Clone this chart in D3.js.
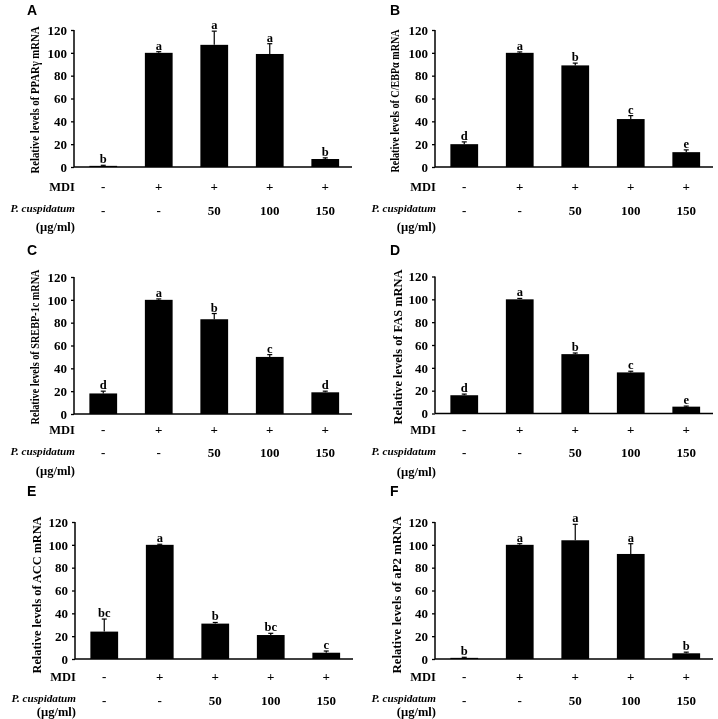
<!DOCTYPE html>
<html><head><meta charset="utf-8">
<script src="https://cdn.jsdelivr.net/npm/d3@7"></script>
<style>body{margin:0;background:#fff}svg{display:block;will-change:transform}text{fill:#000}</style>
</head><body>
<svg id="c" width="718" height="719"></svg>
<script>
const categories = ["Control","MDI","MDI+50","MDI+100","MDI+150"];
const mdiLabels = ["-","+","+","+","+"];
const doseLabels = ["-","-","50","100","150"];
const yTicks = [0,20,40,60,80,100,120];
const panelLetters = ["A","B","C","D","E","F"];
const yTitles = [
  "Relative levels of PPAR\u03b3 mRNA",
  "Relative levels of C/EBP\u03b1 mRNA",
  "Relative levels of SREBP-1c mRNA",
  "Relative levels of FAS mRNA",
  "Relative levels of ACC mRNA",
  "Relative levels of aP2 mRNA"
];
const pparMean = [1,100,107,99,7];
const pparErr  = [0.5,1,12,9,1];
const pparSig  = ["b","a","a","a","b"];
const cebpMean = [20,100,89,42,13];
const cebpErr  = [2,0.8,2,3,2];
const cebpSig  = ["d","a","b","c","e"];
const srebpMean = [18,100,83,50,19];
const srebpErr  = [2,0.8,5,2,1];
const srebpSig  = ["d","a","b","c","d"];
const fasMean = [16,100,52,36,6];
const fasErr  = [1,0.8,1,1,0.5];
const fasSig  = ["d","a","b","c","e"];
const accMean = [24,100,31,21,5.5];
const accErr  = [11,0.5,1,1.5,1.5];
const accSig  = ["bc","a","b","bc","c"];
const ap2Mean = [1,100,104,92,5];
const ap2Err  = [0.5,1,14,9,1];
const ap2Sig  = ["b","a","a","a","b"];

const series = [
  [pparMean,pparErr,pparSig],[cebpMean,cebpErr,cebpSig],[srebpMean,srebpErr,srebpSig],
  [fasMean,fasErr,fasSig],[accMean,accErr,accSig],[ap2Mean,ap2Err,ap2Sig]
];

// layout (positions only)
const layout = [
  {ax:74, y0:167, y1:30, rows:[191,212,215,231], lx:27, ly:15, tx:35, ty:100, tl:147, ts:12},
  {ax:435, y0:167, y1:30, rows:[191,212,215,231], lx:390, ly:15, tx:395, ty:101, tl:143, ts:12},
  {ax:74, y0:414, y1:277, rows:[434,455,457,475], lx:27, ly:255, tx:35, ty:347, tl:155, ts:12},
  {ax:435, y0:413.5, y1:276.5, rows:[434,455,457,476], lx:390, ly:255, tx:398, ty:347, tl:155, ts:13},
  {ax:75, y0:659, y1:522, rows:[681,702,705,716], lx:27, ly:496, tx:37, ty:595, tl:157, ts:13},
  {ax:435, y0:659, y1:522, rows:[681,702,705,716], lx:390, ly:496, tx:397, ty:595, tl:157, ts:13}
];

const svg = d3.select("#c");
const serif = "Liberation Serif, Times New Roman, serif";
const sans = "Liberation Sans, Arial, sans-serif";

layout.forEach((L,i)=>{
  const [mean,err,sig] = series[i];
  const g = svg.append("g");
  const x = d3.scaleBand().domain(categories).range([L.ax+1.5, L.ax+1.5+277.5]).paddingInner(0.5).paddingOuter(0.25);
  const y = d3.scaleLinear().domain([0,120]).range([L.y0, L.y1]);

  // bars
  g.selectAll("rect.bar").data(categories).enter().append("rect")
    .attr("x", d=>x(d)).attr("width", x.bandwidth())
    .attr("y", (d,j)=>y(mean[j])).attr("height", (d,j)=>y(0)-y(mean[j]))
    .attr("fill","#000");
  // error bars (upper)
  categories.forEach((c,j)=>{
    const cx = x(c)+x.bandwidth()/2;
    g.append("line").attr("x1",cx).attr("x2",cx).attr("y1",y(mean[j])).attr("y2",y(mean[j]+err[j]))
      .attr("stroke","#000").attr("stroke-width",1.2);
    g.append("line").attr("x1",cx-2.5).attr("x2",cx+2.5).attr("y1",y(mean[j]+err[j])).attr("y2",y(mean[j]+err[j]))
      .attr("stroke","#000").attr("stroke-width",1.2);
    g.append("text").attr("x",cx).attr("y",y(mean[j]+err[j])-2).attr("text-anchor","middle")
      .attr("font-family",serif).attr("font-weight","bold").attr("font-size",12.5).text(sig[j]);
    g.append("text").attr("x",cx).attr("y",L.rows[0]).attr("text-anchor","middle")
      .attr("font-family",serif).attr("font-weight","bold").attr("font-size",13).text(mdiLabels[j]);
    g.append("text").attr("x",cx).attr("y",L.rows[2]).attr("text-anchor","middle")
      .attr("font-family",serif).attr("font-weight","bold").attr("font-size",13).text(doseLabels[j]);
  });

  // y axis
  const yAxis = d3.axisLeft(y).tickValues(yTicks).tickSize(3).tickPadding(4);
  const ya = g.append("g").attr("transform",`translate(${L.ax},0)`).call(yAxis);
  ya.attr("font-family",serif);
  ya.select(".domain").attr("stroke","#000").attr("stroke-width",1.5).attr("d",`M0,${L.y1}V${L.y0}`);
  ya.selectAll(".tick line").attr("stroke","#000").attr("stroke-width",1.3);
  ya.selectAll(".tick text").attr("font-family",serif).attr("font-weight","bold").attr("font-size",13).attr("fill","#000");
  // x axis line
  const xa = g.append("g").attr("transform",`translate(0,${L.y0})`).call(d3.axisBottom(x).tickSize(0).tickFormat(""));
  xa.select(".domain").attr("stroke","#000").attr("stroke-width",1.5).attr("d",`M${L.ax},0H${L.ax+278}`);

  // row labels
  const rx = L.ax+1;
  g.append("text").attr("x",rx).attr("y",L.rows[0]).attr("text-anchor","end")
    .attr("font-family",serif).attr("font-weight","bold").attr("font-size",12.5).text("MDI");
  g.append("text").attr("x",rx).attr("y",L.rows[1]).attr("text-anchor","end")
    .attr("font-family",serif).attr("font-weight","bold").attr("font-style","italic").attr("font-size",11.2).text("P. cuspidatum");
  g.append("text").attr("x",rx).attr("y",L.rows[3]).attr("text-anchor","end")
    .attr("font-family",serif).attr("font-weight","bold").attr("font-size",12.5).text("(\u00b5g/ml)");

  // y title
  g.append("text").attr("transform",`translate(${L.tx+4},${L.ty}) rotate(-90)`).attr("text-anchor","middle")
    .attr("font-family",serif).attr("font-weight","bold").attr("font-size",L.ts)
    .attr("textLength",L.tl).attr("lengthAdjust","spacingAndGlyphs").text(yTitles[i]);

  // panel letter
  g.append("text").attr("x",L.lx).attr("y",L.ly).attr("font-family",sans).attr("font-weight","bold")
    .attr("font-size",14).text(panelLetters[i]);
});
</script>
</body></html>
